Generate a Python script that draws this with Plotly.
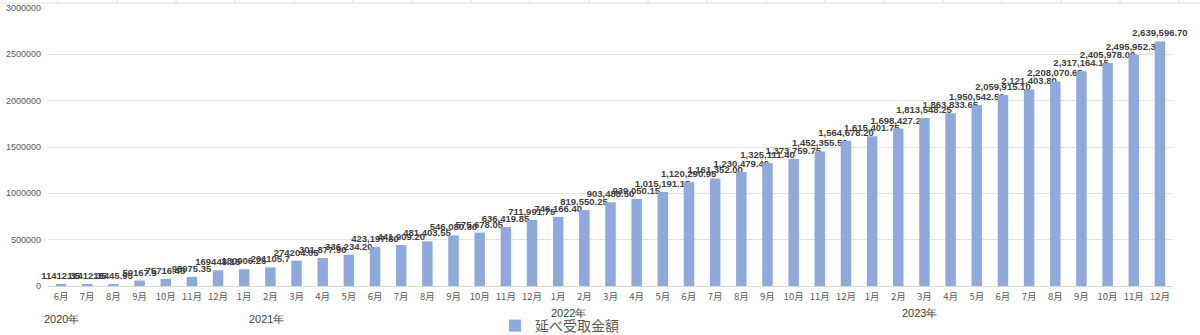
import plotly.graph_objects as go

months = ["6月", "7月", "8月", "9月", "10月", "11月", "12月",
          "1月", "2月", "3月", "4月", "5月", "6月", "7月", "8月", "9月", "10月", "11月", "12月",
          "1月", "2月", "3月", "4月", "5月", "6月", "7月", "8月", "9月", "10月", "11月", "12月",
          "1月", "2月", "3月", "4月", "5月", "6月", "7月", "8月", "9月", "10月", "11月", "12月"]

values = [11412.35, 11412.35, 18445.95, 59167.90, 75716.45, 98975.35, 169448.15,
          180906.25, 201105.70, 274204.05, 301877.90, 336234.20, 423197.80, 441909.20,
          481403.55, 546080.30, 575678.05, 636419.85, 711991.75,
          746166.40, 819550.25, 903488.50, 939050.15, 1015191.15, 1120290.95, 1161352.00,
          1230479.40, 1325111.40, 1373759.75, 1452355.50, 1564678.20,
          1615401.75, 1698427.20, 1813548.25, 1863833.65, 1950542.50, 2059915.10, 2121403.80,
          2208070.65, 2317164.15, 2405978.00, 2495952.35, 2639596.70]

# label texts as displayed (early labels lack thousands separators)
labels = ["11412.35", "11412.35", "18445.95", "59167.9", "75716.45", "98975.35", "169448.15",
          "180906.25", "201105.7", "274204.05"] + [f"{v:,.2f}" for v in values[10:]]

years = ["2020年", "2021年", "2022年", "2023年"]
year_pos = [0.0, 7.85, 19.4, 32.8]
year_y = [-0.118, -0.12, -0.097, -0.097]

series_name = "延べ受取金額"
yticks = [0, 500000, 1000000, 1500000, 2000000, 2500000, 3000000]

x = list(range(len(values)))

fig = go.Figure()
fig.add_trace(go.Bar(
    x=x, y=values, name=series_name,
    marker=dict(color="#8EA9DB", line=dict(width=0)),
    text=labels, textposition="outside", constraintext="none", cliponaxis=False,
    textfont=dict(family="Liberation Sans, Arial, sans-serif", size=9.5, color="#404040", weight="bold"),
    width=0.4,
))

W, H = 1200, 335
L, R, T, B = 48, 27, 8, 49
PW, PH = W - L - R, H - T - B

annotations = []
for yl, xp, yy in zip(years, year_pos, year_y):
    annotations.append(dict(x=xp, y=yy, xref="x", yref="paper", text=yl, showarrow=False,
                            font=dict(family="Liberation Sans, Arial, sans-serif", size=11, color="#404040"),
                            xanchor="center", yanchor="middle"))

shapes = [dict(type="line", xref="paper", yref="paper", x0=-L / PW, x1=(W - L) / PW,
               y0=1 + 5 / PH, y1=1 + 5 / PH, line=dict(color="#E0E0E0", width=1))]
for px in range(58, 1200, 59):
    xp = (px - L) / PW
    shapes.append(dict(type="line", xref="paper", yref="paper", x0=xp, x1=xp,
                       y0=1 + 5 / PH, y1=1 + 9 / PH, line=dict(color="#E0E0E0", width=1)))

fig.update_layout(
    width=W, height=H,
    margin=dict(l=L, r=R, t=T, b=B, autoexpand=False),
    paper_bgcolor="white", plot_bgcolor="white",
    font=dict(family="Liberation Sans, Arial, sans-serif", color="#595959"),
    showlegend=True,
    legend=dict(orientation="h", x=0.4547, xanchor="center", y=-0.144, yanchor="middle",
                font=dict(size=14, color="#595959", family="Noto Sans CJK JP, sans-serif"),
                itemwidth=30),
    annotations=annotations,
    shapes=shapes,
    xaxis=dict(tickmode="array", tickvals=x, ticktext=months, range=[-0.5, len(values) - 0.5],
               tickfont=dict(size=9.5, color="#595959", family="Noto Sans CJK JP, sans-serif"),
               showgrid=False, showline=True, linecolor="#D9D9D9", linewidth=1, ticks="",
               tickangle=0, fixedrange=True, ticklabelstandoff=2),
    yaxis=dict(range=[0, 3000000], tickvals=yticks, ticktext=[str(v) for v in yticks],
               tickfont=dict(size=9, color="#595959"),
               showgrid=True, gridcolor="#E3E3E3", gridwidth=1, zeroline=False,
               ticks="", ticklabelstandoff=6, fixedrange=True),
)

fig.write_html("out.html")
